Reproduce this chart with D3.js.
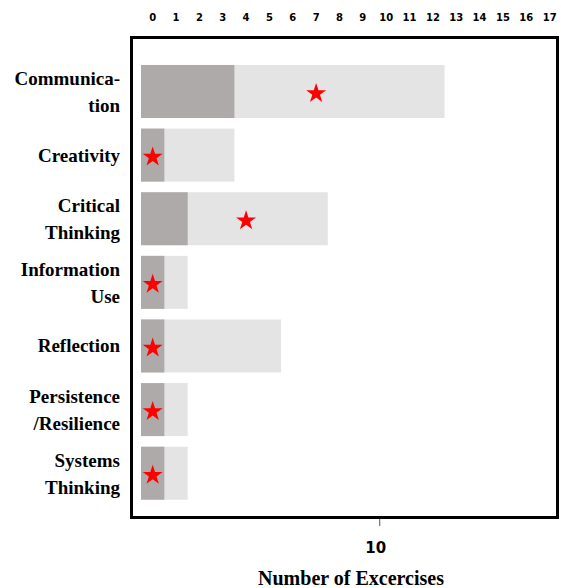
<!DOCTYPE html>
<html><head><meta charset="utf-8">
<script src="https://cdn.jsdelivr.net/npm/d3@7"></script>
<style>
body{margin:0;background:#fff;}
svg{display:block;}
</style>
</head><body>
<svg id="chart" width="561" height="588"></svg>
<script>
const categories = [["Communica-","tion"],["Creativity"],["Critical","Thinking"],["Information","Use"],["Reflection"],["Persistence","/Resilience"],["Systems","Thinking"]];
const categoryNames = ["Communication","Creativity","Critical Thinking","Information Use","Reflection","Persistence/Resilience","Systems Thinking"];
const totalValues = [13,4,8,2,6,2,2];
const darkValues = [4,1,2,1,1,1,1];
const starValues = [7,0,4,0,0,0,0];
const topTicks = d3.range(0,18);
const bottomTicks = [10];

const svg = d3.select("#chart");
const x = d3.scaleLinear().domain([0,18]).range([141,561.3]);
const xBand = d3.scaleBand().domain(topTicks).range([141,561.3]);
const y = d3.scaleBand().domain(categoryNames).range([59.7,505]).paddingInner(0.167).paddingOuter(0.083);
const xBottom = d3.scaleLinear().domain([0,17]).range([141,546]);

// bars
const g = svg.append("g");
g.selectAll("rect.total").data(categoryNames).join("rect")
  .attr("class","total")
  .attr("x",x(0)).attr("y",d=>y(d))
  .attr("width",(d,i)=>x(totalValues[i])-x(0))
  .attr("height",y.bandwidth())
  .attr("fill","#e4e4e4");
g.selectAll("rect.dark").data(categoryNames).join("rect")
  .attr("class","dark")
  .attr("x",x(0)).attr("y",d=>y(d))
  .attr("width",(d,i)=>x(darkValues[i])-x(0))
  .attr("height",y.bandwidth())
  .attr("fill","#aeaaa9");

// stars
g.selectAll("path.star").data(categoryNames).join("path")
  .attr("class","star")
  .attr("d",d3.symbol().type(d3.symbolStar).size(124))
  .attr("transform",(d,i)=>`translate(${xBand(starValues[i])+xBand.bandwidth()/2},${y(d)+y.bandwidth()/2+2})`)
  .attr("fill","#ff0000");

// frame
svg.append("rect").attr("x",131.5).attr("y",37.5).attr("width",426).attr("height",480)
  .attr("fill","none").attr("stroke","#000").attr("stroke-width",3);

// top axis
const topAxisG = svg.append("g").attr("transform","translate(0,21)")
  .call(d3.axisTop(xBand).tickSize(0).tickPadding(0));
topAxisG.select(".domain").remove();
topAxisG.selectAll("text").attr("font-family","DejaVu Sans").attr("font-weight","bold").attr("font-size","10px").attr("fill","#000").attr("dy","0");

// bottom axis
const botAxisG = svg.append("g").attr("transform","translate(0,519)")
  .call(d3.axisBottom(xBottom).tickValues(bottomTicks).tickSize(7).tickFormat(d3.format("d")));
botAxisG.select(".domain").remove();
botAxisG.selectAll("line").attr("stroke","#445566");
botAxisG.selectAll("text").attr("font-family","DejaVu Sans").attr("font-weight","bold").attr("font-size","15px").attr("fill","#000")
  .attr("x",-4).attr("y",34).attr("dy","0");

svg.append("text").attr("x",351).attr("y",585).attr("text-anchor","middle")
  .attr("font-family","Liberation Serif").attr("font-weight","bold").attr("font-size","20px")
  .text("Number of Excercises");

// left labels
const labels = svg.append("g");
categoryNames.forEach((name,i)=>{
  const lines = categories[i];
  const cy = y(name)+y.bandwidth()/2;
  const lh = 27;
  const off = lines.length > 1 ? 7 : 6.5;
  const t = labels.append("text").attr("text-anchor","end")
    .attr("font-family","Liberation Serif").attr("font-weight","bold").attr("font-size","19px").attr("fill","#000");
  lines.forEach((ln,j)=>{
    t.append("tspan").attr("x",120).attr("y",cy + off + (j-(lines.length-1)/2)*lh).text(ln);
  });
});
</script>
</body></html>
